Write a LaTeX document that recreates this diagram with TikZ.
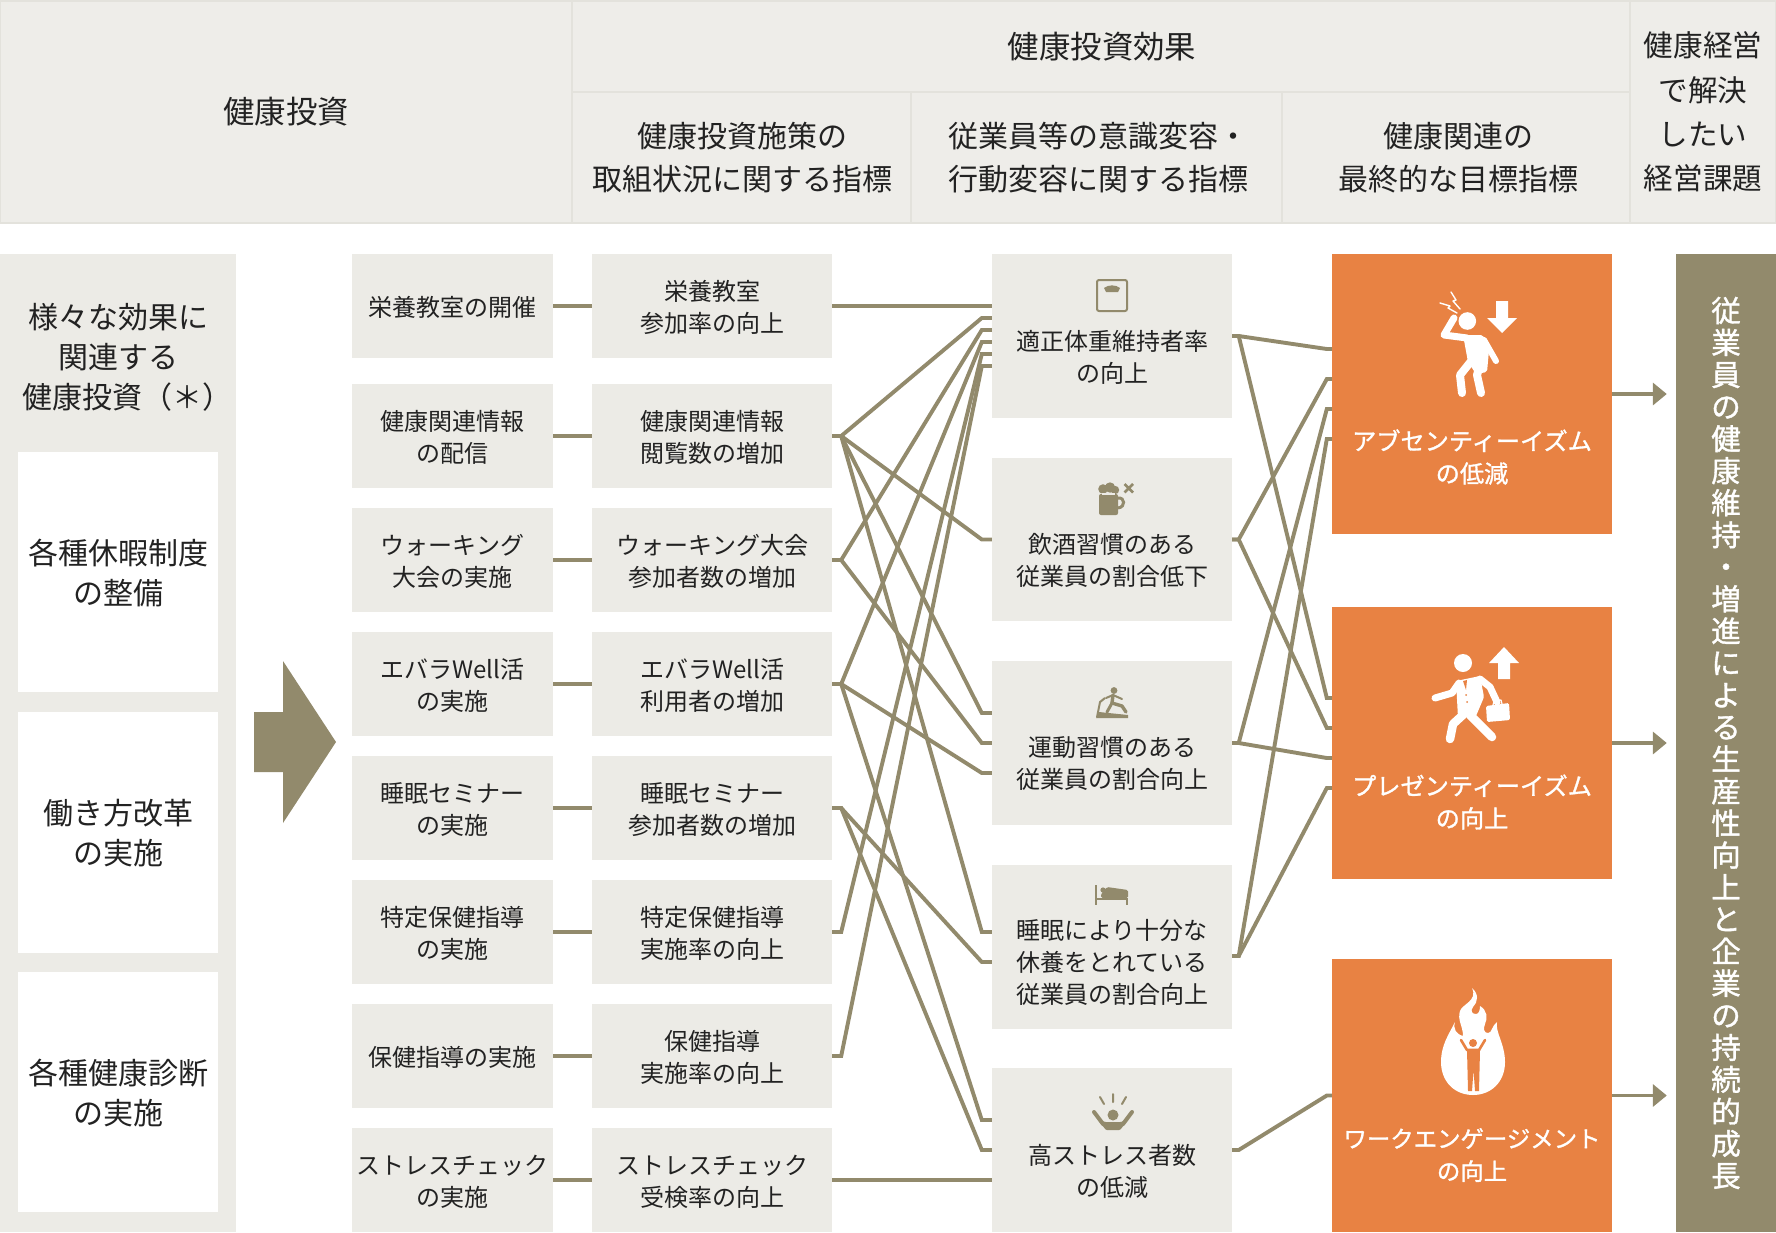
\documentclass[tikz,border=0pt]{standalone}
\usepackage{fontspec}
\setmainfont{Noto Sans CJK JP}
\newfontfamily\jpheavy{Noto Sans CJK JP}[FakeBold=1.2]
\usepackage{tikz}
\usetikzlibrary{
  arrows.meta}

\definecolor{headfill}{HTML}{EEEDE9}
\definecolor{headline}{HTML}{E3E2DC}
\definecolor{boxfill}{HTML}{ECEBE6}
\definecolor{olive}{HTML}{928A6C}
\definecolor{carrot}{HTML}{E88243}
\definecolor{ink}{HTML}{222222}

\tikzset{
  cell/.style={draw=headline, line width=2pt, fill=headfill, text=ink, inner sep=0pt,
    align=center, font=\fontsize{30}{42.5}\selectfont},
  sidebox/.style={fill=white, minimum width=200pt, minimum height=240pt, inner sep=0pt,
    align=center, text=ink, font=\fontsize{30}{40}\selectfont},
  stepbox/.style={fill=boxfill, minimum width=#1, minimum height=104pt, inner sep=0pt},
  effectbox/.style={fill=boxfill, minimum width=240pt, minimum height=163.5pt, inner sep=0pt},
  goalbox/.style={fill=carrot, minimum width=280pt, inner sep=0pt},
  steptext/.style={inner sep=0pt, align=center, text=ink, font=\fontsize{24}{32}\selectfont},
  goaltext/.style={inner sep=0pt, align=center, text=white, font=\jpheavy\fontsize{24.2}{32.5}\selectfont},
  link/.style={draw=olive, line width=3.9pt},
  goalarrow/.style={draw=olive, line width=3.9pt, shorten >=9pt,
    -{Triangle[length=14pt, width=22pt, fill=olive]}},
  iconstroke/.style={draw=olive, line width=2pt},
  whitestroke/.style={draw=white, line cap=round, line join=round},
  notch/.style={draw=carrot, line cap=round, line join=round}
}

\begin{document}
\begin{tikzpicture}[x=1pt, y=-1pt]
\useasboundingbox (0,0) rectangle (1776,1232);

\node[cell, minimum width=572pt, minimum height=222pt, font=\fontsize{31.4}{42.5}\selectfont] (invest) at (286,112) {\raisebox{-1pt}{健康投資}};
\node[cell, minimum width=1058pt, minimum height=91pt, font=\fontsize{31.4}{42.5}\selectfont] (effect) at (1101,46.5) {\hspace*{2pt}健康投資効果};
\node[cell, minimum width=339pt, minimum height=131pt] (measure) at (741.5,157.5) {\hspace*{2pt}健康投資施策の\\\hspace*{2pt}取組状況に関する指標};
\node[cell, minimum width=371pt, minimum height=131pt] (change) at (1096.5,157.5) {\hspace*{4.5pt}従業員等の意識変容・\\\hspace*{4.5pt}行動変容に関する指標};
\node[cell, minimum width=348pt, minimum height=131pt] (final) at (1456,157.5) {\hspace*{4.5pt}健康関連の\\\hspace*{4.5pt}最終的な目標指標};
\node[cell, minimum width=146pt, minimum height=222pt, font=\fontsize{29.6}{44.3}\selectfont] (issue) at (1703,112) {健康経営\\で解決\\したい\\経営課題};

\node[fill=boxfill, minimum width=236pt, minimum height=978pt, inner sep=0pt] (side) at (118,743) {};
\node[inner sep=0pt, align=center, text=ink, font=\fontsize{30}{40}\selectfont] (sidetitle) at (118.5,357) {様々な効果に\\関連する\\\hspace*{18pt}健康投資（＊）};
\node[sidebox] (leave) at (118,572) {};
\node[sidebox, minimum height=241pt] (reform) at (118,832.5) {};
\node[sidebox] (checkup) at (118,1092) {};
\node[sidebox, fill=none] (leavetext) at ([shift={(0,1)}]leave.center) {各種休暇制度\\の整備};
\node[sidebox, fill=none] (reformtext) at ([shift={(0,1)}]reform.center) {働き方改革\\の実施};
\node[sidebox, fill=none] (checkuptext) at ([shift={(0,1)}]checkup.center) {各種健康診断\\の実施};

\path[fill=olive] (254,712) -- (283,712) -- (283,661) -- (336,742) -- (283,823) -- (283,772) -- (254,772) -- cycle;

\foreach \name/\y/\plan/\kpi in {
  1/306/{栄養教室の開催}/{栄養教室\\参加率の向上},
  2/436/{健康関連情報\\の配信}/{健康関連情報\\閲覧数の増加},
  3/560/{ウォーキング\\大会の実施}/{ウォーキング大会\\参加者数の増加},
  4/684/{エバラWell活\\の実施}/{エバラWell活\\利用者の増加},
  5/808/{睡眠セミナー\\の実施}/{睡眠セミナー\\参加者数の増加},
  6/932/{特定保健指導\\の実施}/{特定保健指導\\実施率の向上},
  7/1056/{保健指導の実施}/{保健指導\\実施率の向上},
  8/1180/{ストレスチェック\\の実施}/{ストレスチェック\\受検率の向上}}
{
  \node[stepbox=201pt] (plan\name) at (452.5,\y) {};
  \node[stepbox=240pt] (kpi\name) at (712,\y) {};
  \node[steptext] (plantext\name) at ([shift={(0,1.5)}]plan\name.center) {\plan};
  \node[steptext] (kpitext\name) at ([shift={(0.5,1.5)}]kpi\name.center) {\kpi};
  \draw[link] (plan\name) -- (kpi\name);
}

\node[effectbox] (weight) at (1112,336) {};
\node[effectbox] (drink) at (1112,539.5) {};
\node[effectbox] (sport) at (1112,743) {};
\node[effectbox] (sleep) at (1112,947) {};
\node[effectbox] (stress) at (1112,1150) {};
\node[steptext] (weighttext) at ([shift={(0,21)}]weight.center) {適正体重維持者率\\の向上};
\node[steptext] (drinktext) at ([shift={(0,20.5)}]drink.center) {飲酒習慣のある\\従業員の割合低下};
\node[steptext] (sporttext) at ([shift={(0,20.5)}]sport.center) {運動習慣のある\\従業員の割合向上};
\node[steptext] (sleeptext) at ([shift={(0,15)}]sleep.center) {睡眠により十分な\\休養をとれている\\従業員の割合向上};
\node[steptext] (stresstext) at ([shift={(0,21.5)}]stress.center) {高ストレス者数\\の低減};

\node[goalbox, minimum height=280pt] (absent) at (1472,394) {};
\node[goalbox, minimum height=272pt] (present) at (1472,743) {};
\node[goalbox, minimum height=273pt] (engage) at (1472,1095.5) {};
\node[goaltext] (absenttext) at ([shift={(0,63)}]absent.center) {アブセンティーイズム\\の低減};
\node[goaltext] (presenttext) at ([shift={(0,59)}]present.center) {プレゼンティーイズム\\の向上};
\node[goaltext, font=\jpheavy\fontsize{23.4}{32.5}\selectfont] (engagetext) at ([shift={(0,59.5)}]engage.center) {ワークエンゲージメント\\の向上};

\node[fill=olive, minimum width=100pt, minimum height=978pt, inner sep=0pt, text=white,
  align=center, font=\jpheavy\fontsize{29.5}{32.04}\selectfont] (growth) at (1726,743)
  {従\\業\\員\\の\\健\\康\\維\\持\\・\\増\\進\\に\\よ\\る\\生\\産\\性\\向\\上\\と\\企\\業\\の\\持\\続\\的\\成\\長};

\foreach \from/\to/\dy in {
  kpi1/weight/-30, kpi2/weight/-18, kpi3/weight/-6, kpi4/weight/6, kpi6/weight/18, kpi7/weight/30,
  kpi2/drink/0,
  kpi2/sport/-30, kpi3/sport/0, kpi4/sport/30,
  kpi2/sleep/-15, kpi5/sleep/15,
  kpi4/stress/-30, kpi5/stress/0, kpi8/stress/30}
{
  \draw[link] (\from.east) -- ++(9,0) -- ([shift={(-10,\dy)}]\to.west) -- ([shift={(0,\dy)}]\to.west);
}

\foreach \from/\dz/\to/\dy in {
  weight/0/absent/-45, drink/0/absent/-15, sport/0/absent/15, sleep/9/absent/45,
  weight/0/present/-45, drink/0/present/-15, sport/0/present/15, sleep/9/present/45,
  stress/0/engage/0}
{
  \draw[link] ([shift={(0,\dz)}]\from.east) -- ++(6.5,0) -- ([shift={(-5,\dy)}]\to.west) -- ([shift={(0,\dy)}]\to.west);
}

\draw[goalarrow] (absent) -- (absent -| growth.west);
\draw[goalarrow] (present) -- (present -| growth.west);
\draw[goalarrow] (engage) -- (engage -| growth.west);

\draw[iconstroke, rounded corners=2pt] (1097,280) rectangle (1127,311);
\fill[olive] (1104,288) .. controls (1108,284.5) and (1116,284.5) .. (1120,288) -- (1118,292) -- (1106,292) -- cycle;

\fill[olive, rounded corners=2pt] (1099,494) rectangle (1118,515);
\fill[olive] (1103,489) circle[radius=4.8] (1110,487.5) circle[radius=5.2] (1115,490) circle[radius=4.2];
\fill[boxfill] (1102,492.5) rectangle (1115,494.5);
\draw[iconstroke, line width=3pt] (1118,498) .. controls (1125,497) and (1126,507) .. (1118,508);
\draw[iconstroke, line width=2.6pt] (1124.5,484) -- (1133,492.5) (1133,484) -- (1124.5,492.5);

\fill[olive] (1114,690.5) circle[radius=3.4];
\draw[iconstroke, line cap=round, line join=round] (1106,698) -- (1113,695) -- (1122,699);
\draw[iconstroke, line width=3.4pt, line cap=round, line join=round] (1113,695) -- (1112,703) -- (1122,706) -- (1126,712);
\draw[iconstroke, line width=3pt, line cap=round] (1112,703) -- (1107,712);
\draw[iconstroke, line join=round] (1105,698) -- (1100,702) -- (1097,717);
\fill[olive] (1096,718) -- (1128,718) -- (1128,715) -- (1099,712) -- cycle;

\draw[iconstroke] (1096,885) -- (1096,905) (1096,899) -- (1127,899) -- (1127,905);
\fill[olive] (1103,890) circle[radius=2.6];
\fill[olive, rounded corners=1.5pt] (1101,894) -- (1107,887) -- (1128,890) -- (1128,898) -- (1101,898) -- cycle;

\fill[olive] (1113,1115) circle[radius=5.5];
\fill[olive, rounded corners=1pt] (1097,1119) -- (1105,1122) -- (1121,1122) -- (1129,1119) -- (1120,1130) -- (1106,1130) -- cycle;
\draw[iconstroke, line width=4pt, line cap=round] (1094,1112) -- (1103,1124) (1132,1112) -- (1123,1124);
\draw[iconstroke, line cap=round] (1100,1097) -- (1104,1104) (1113,1094) -- (1113,1102) (1126,1097) -- (1122,1104);

\fill[white] (1467.3,321) circle[radius=8.8];
\draw[whitestroke, line width=7pt] (1467,338) -- (1444,335) -- (1454,318);
\fill[white, rounded corners=2pt] (1463,335) -- (1483,335) -- (1489,350) -- (1487,372) -- (1476,374) -- (1468,362) -- cycle;
\draw[whitestroke, line width=8pt] (1472,360) -- (1460,375) -- (1462,393);
\draw[whitestroke, line width=8pt] (1480,365) -- (1477,375) -- (1481,393);
\draw[whitestroke, line width=6pt] (1484,340) -- (1496,361);
\draw[whitestroke, line width=1.4pt] (1451,292) -- (1456,300) -- (1453,301) -- (1460,309);
\draw[whitestroke, line width=1.4pt] (1440,303) -- (1450,306) -- (1448,308) -- (1457,313);
\fill[white] (1496,301) -- (1508,301) -- (1508,318) -- (1517,318) -- (1502,333) -- (1487,318) -- (1496,318) -- cycle;

\fill[white] (1463,663) circle[radius=9];
\fill[white] (1504,647) -- (1519,663) -- (1510,663) -- (1510,679) -- (1498,679) -- (1498,663) -- (1489,663) -- cycle;
\fill[white, rounded corners=1.5pt] (1456,681) -- (1480,676) -- (1484,697) -- (1476,716) -- (1458,718) -- cycle;
\draw[whitestroke, line width=7pt] (1435,698) -- (1452,693) -- (1459,683);
\draw[whitestroke, line width=7pt] (1480,679) -- (1490,687) -- (1497,702);
\draw[whitestroke, line width=8.5pt] (1465,713) -- (1453,724) -- (1450,739);
\draw[whitestroke, line width=8.5pt] (1470,715) -- (1492,737);
\fill[white, rounded corners=1.5pt] (1486,706) -- (1509,703) -- (1510,720) -- (1487,722) -- cycle;
\draw[whitestroke, line width=1.2pt] (1493,705) -- (1494,701) -- (1501,700) -- (1502,704);
\fill[carrot] (1463,681) -- (1467,680) -- (1466,690) -- cycle;
\fill[carrot] (1466,695) circle[radius=1] (1467,702) circle[radius=1];

\fill[white] (1473,1095)
  .. controls (1455,1095) and (1441,1082) .. (1441,1062)
  .. controls (1441,1045) and (1449,1034) .. (1455,1022)
  .. controls (1453,1029) and (1456,1034) .. (1463,1036)
  .. controls (1463,1026) and (1457,1020) .. (1460,1011)
  .. controls (1462,1004) and (1478,1001) .. (1472,988)
  .. controls (1479,994) and (1478,1002) .. (1473,1007)
  .. controls (1470,1011) and (1472,1014) .. (1476,1014)
  .. controls (1479,1014) and (1480,1010) .. (1480,1006)
  .. controls (1487,1010) and (1488,1018) .. (1485,1024)
  .. controls (1483,1029) and (1484,1033) .. (1488,1033)
  .. controls (1492,1033) and (1491,1027) .. (1497,1022)
  .. controls (1495,1032) and (1505,1044) .. (1505,1062)
  .. controls (1505,1082) and (1491,1095) .. (1473,1095) -- cycle;
\fill[carrot] (1473,1043) circle[radius=4];
\draw[notch, line width=2.6pt] (1461,1040) -- (1467,1050) -- (1479,1050) -- (1485,1040);
\fill[carrot] (1467,1050) -- (1480,1050) -- (1479,1091) -- (1475,1091) -- (1473.5,1070) -- (1472,1091) -- (1468,1091) -- cycle;
\end{tikzpicture}
\end{document}
